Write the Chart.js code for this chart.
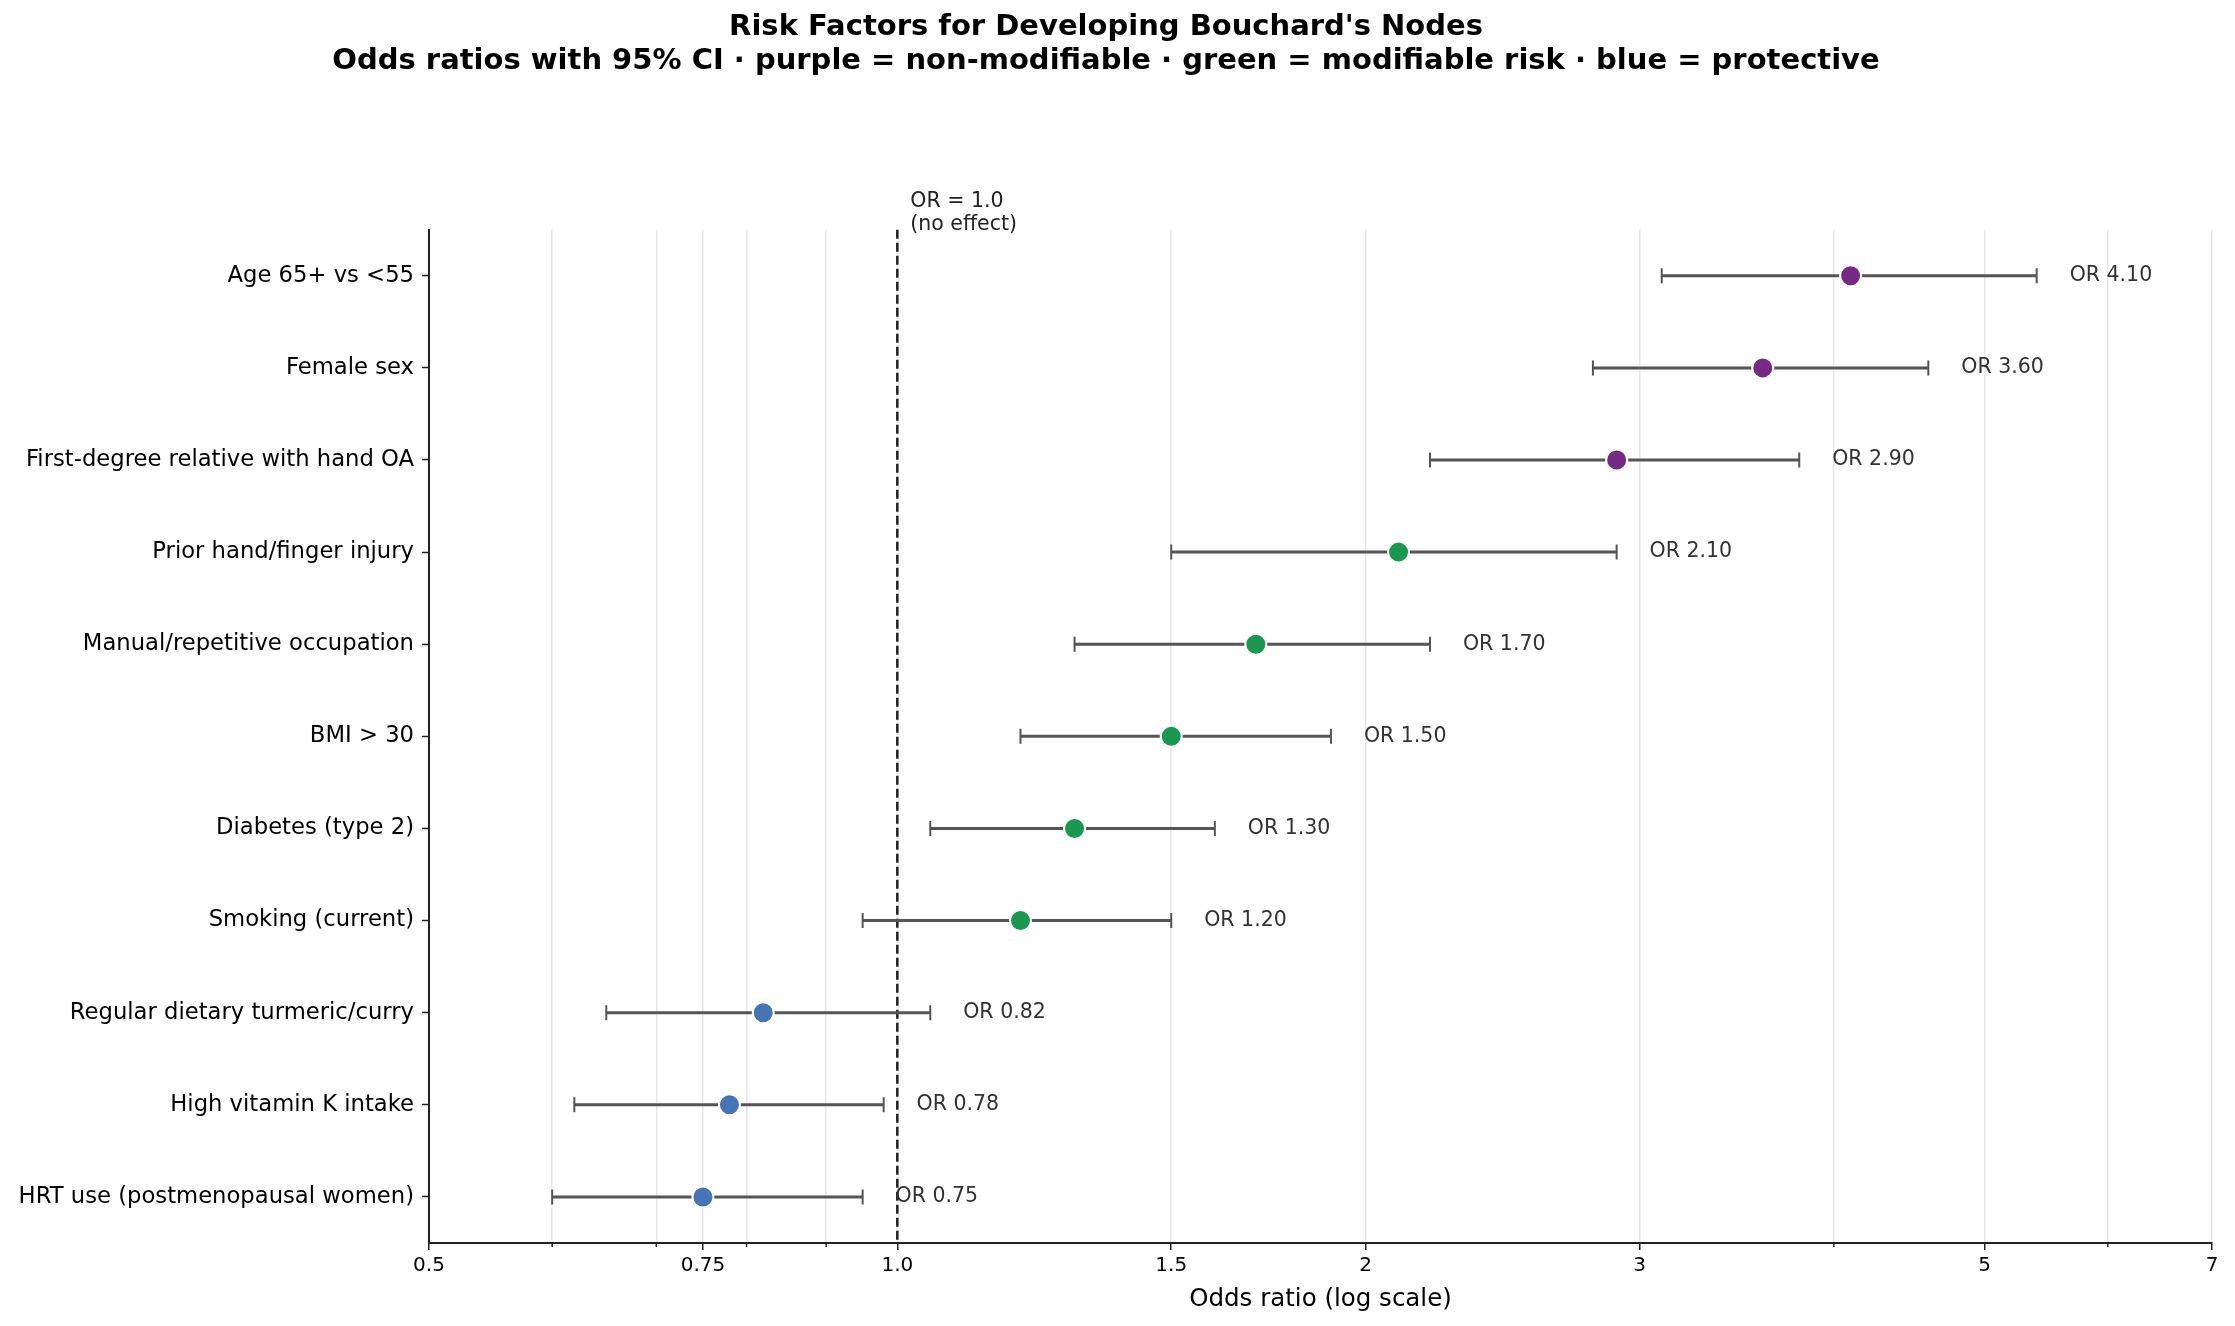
<!DOCTYPE html>
<html>
<head>
<meta charset="utf-8">
<title>Risk Factors for Developing Bouchard's Nodes</title>
<script src="https://cdn.jsdelivr.net/npm/chart.js@4.4.1/dist/chart.umd.min.js"></script>
<style>
  html, body { margin: 0; padding: 0; background: #fff; }
  #wrap { width: 2235px; height: 1326px; }
</style>
</head>
<body>
<div id="wrap"><canvas id="grafica" width="2235" height="1326"></canvas></div>
<script>
const factors = [
  "Age 65+ vs <55",
  "Female sex",
  "First-degree relative with hand OA",
  "Prior hand/finger injury",
  "Manual/repetitive occupation",
  "BMI > 30",
  "Diabetes (type 2)",
  "Smoking (current)",
  "Regular dietary turmeric/curry",
  "High vitamin K intake",
  "HRT use (postmenopausal women)"
];
const oddsRatio = [4.10, 3.60, 2.90, 2.10, 1.70, 1.50, 1.30, 1.20, 0.82, 0.78, 0.75];
const ciLow     = [3.10, 2.80, 2.20, 1.50, 1.30, 1.20, 1.05, 0.95, 0.65, 0.62, 0.60];
const ciHigh    = [5.40, 4.60, 3.80, 2.90, 2.20, 1.90, 1.60, 1.50, 1.05, 0.98, 0.95];
// group: n = non-modifiable, m = modifiable risk, p = protective
const group     = ["n", "n", "n", "m", "m", "m", "m", "m", "p", "p", "p"];

const tickValues = [0.5, 0.6, 0.7, 0.75, 0.8, 0.9, 1, 1.5, 2, 3, 4, 5, 6, 7];
const tickLabels = { 0.5: "0.5", 0.75: "0.75", 1: "1.0", 1.5: "1.5", 2: "2", 3: "3", 5: "5", 7: "7" };

const groupColors = { n: "#762a83", m: "#1a9850", p: "#4575b4" };
const font = "'DejaVu Sans', 'Liberation Sans', sans-serif";

// CI whiskers: one line dataset per row, caps drawn as rotated line points
const ciSets = factors.map((f, i) => ({
  type: "line",
  data: [{ x: ciLow[i], y: f }, { x: ciHigh[i], y: f }],
  borderColor: "#555555",
  borderWidth: 3,
  pointStyle: "line",
  rotation: 90,
  pointRadius: 7.5,
  pointBorderWidth: 2,
  pointBorderColor: "#555555",
  pointHoverRadius: 7.5,
  order: 2
}));

const pointSet = {
  type: "scatter",
  data: factors.map((f, i) => ({ x: oddsRatio[i], y: f })),
  backgroundColor: group.map(g => groupColors[g]),
  borderColor: "#ffffff",
  borderWidth: 2,
  pointRadius: 10.5,
  pointHoverRadius: 10.5,
  order: 1
};

const extras = {
  id: "extras",
  beforeDatasetsDraw(chart) {
    const { ctx, chartArea, scales } = chart;
    const x1 = scales.x.getPixelForValue(1);
    ctx.save();
    ctx.strokeStyle = "#222222";
    ctx.lineWidth = 2.5;
    ctx.setLineDash([9, 4]);
    ctx.beginPath();
    ctx.moveTo(x1, chartArea.top);
    ctx.lineTo(x1, chartArea.bottom);
    ctx.stroke();
    ctx.setLineDash([]);
    // minor ticks, shorter than the major ones
    ctx.lineWidth = 1.5;
    tickValues.filter(v => !(v in tickLabels)).forEach(v => {
      const px = scales.x.getPixelForValue(v);
      ctx.beginPath();
      ctx.moveTo(px, chartArea.bottom);
      ctx.lineTo(px, chartArea.bottom + 4);
      ctx.stroke();
    });
    ctx.fillStyle = "#222222";
    ctx.font = "20.5px " + font;
    ctx.textAlign = "left";
    ctx.textBaseline = "middle";
    ctx.fillText("OR = 1.0", x1 + 13, chartArea.top - 28);
    ctx.fillText("(no effect)", x1 + 13, chartArea.top - 5);
    ctx.restore();
  },
  afterDatasetsDraw(chart) {
    const { ctx, scales } = chart;
    ctx.save();
    ctx.fillStyle = "#333333";
    ctx.font = "20.5px " + font;
    ctx.textAlign = "left";
    ctx.textBaseline = "middle";
    factors.forEach((f, i) => {
      const px = scales.x.getPixelForValue(ciHigh[i] * 1.05);
      const py = scales.y.getPixelForValue(i);
      ctx.fillText("OR " + oddsRatio[i].toFixed(2), px, py);
    });
    ctx.restore();
  }
};

new Chart(document.getElementById("grafica"), {
  type: "scatter",
  data: { datasets: [pointSet, ...ciSets] },
  options: {
    responsive: false,
    animation: false,
    devicePixelRatio: 1,
    layout: { padding: { left: 0, right: 23, top: 0, bottom: 0 } },
    plugins: {
      legend: { display: false },
      tooltip: { enabled: false },
      title: {
        display: true,
        text: [
          "Risk Factors for Developing Bouchard's Nodes",
          "Odds ratios with 95% CI \u00b7 purple = non-modifiable \u00b7 green = modifiable risk \u00b7 blue = protective"
        ],
        color: "#000000",
        font: { family: font, size: 29, weight: "bold", lineHeight: 1.15 },
        padding: { top: 11, bottom: 152 }
      }
    },
    scales: {
      x: {
        type: "logarithmic",
        min: 0.5,
        max: 7,
        afterBuildTicks(scale) {
          scale.ticks = tickValues.map(v => ({ value: v, major: v in tickLabels }));
        },
        afterFit(scale) { scale.height = 83; },
        ticks: {
          autoSkip: false,
          maxRotation: 0,
          color: "#000000",
          font: { family: font, size: 20 },
          padding: 4,
          callback: v => tickLabels[v] || ""
        },
        grid: {
          color: "#e8e8e8",
          lineWidth: 1.5,
          tickLength: 7,
          tickWidth: 1.5,
          tickColor: c => (c.tick && c.tick.value in tickLabels) ? "#222222" : "rgba(0,0,0,0)"
        },
        border: { display: true, color: "#222222", width: 2 },
        title: {
          display: true,
          text: "Odds ratio (log scale)",
          color: "#000000",
          font: { family: font, size: 24.5 },
          padding: { top: 4, bottom: 12 }
        }
      },
      y: {
        type: "category",
        labels: factors,
        offset: true,
        afterFit(scale) { scale.width = 429; },
        ticks: {
          color: "#000000",
          font: { family: font, size: 22.7 },
          padding: 8,
          autoSkip: false
        },
        grid: {
          offset: false,
          drawOnChartArea: false,
          color: "#222222",
          tickLength: 7,
          tickWidth: 1.5
        },
        border: { display: true, color: "#222222", width: 2 }
      }
    }
  },
  plugins: [extras]
});
</script>
</body>
</html>
